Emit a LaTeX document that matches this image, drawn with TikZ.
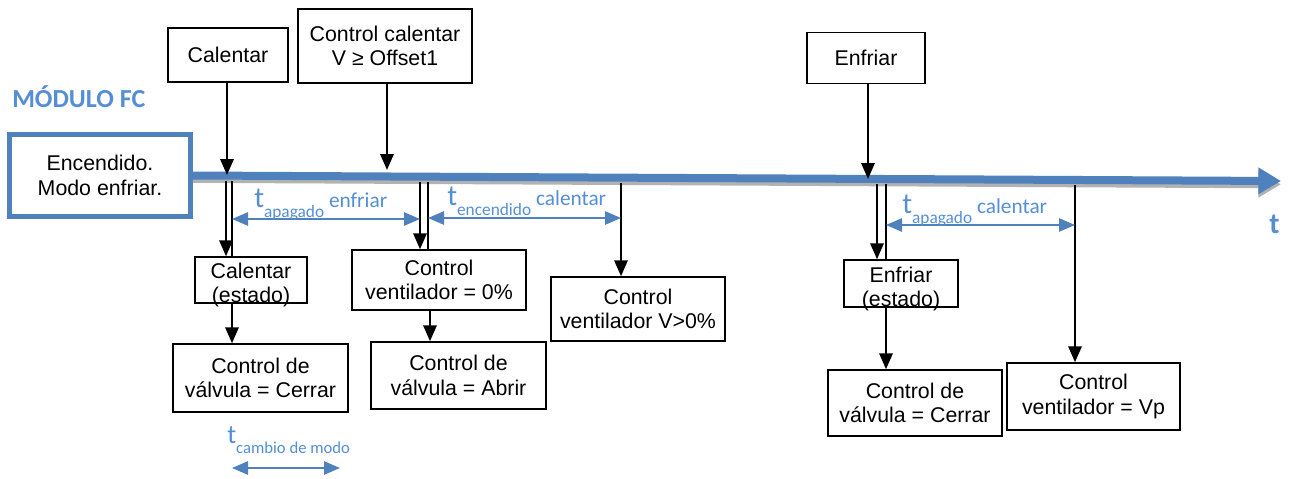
\documentclass[tikz,border=0pt]{standalone}
\usepackage{fontspec}
\newfontfamily\arialf{Liberation Sans}
\newfontfamily\calf{Carlito}
\usetikzlibrary{arrows.meta}
\definecolor{lineblue}{RGB}{79,129,189}
\definecolor{textblue}{RGB}{85,142,213}
\newcommand{\tlab}[2]{{\fontsize{22}{22}\selectfont t}\raisebox{-7.5pt}{\fontsize{13}{13}\selectfont #1}\ #2}

\tikzset{
  boxtext/.style={inner sep=0pt, align=center, font=\arialf\fontsize{16}{18.5}\selectfont},
  box/.style={boxtext, draw, line width=1.1pt, fill=white},
  arr/.style={line width=1.7pt, -{Triangle[length=12pt,width=10pt]}},
  bar/.style={line width=1.7pt},
  dim/.style={draw=lineblue, line width=1.2pt, {Triangle[length=12pt,width=10pt]}-{Triangle[length=12pt,width=10pt]}},
  lab/.style={anchor=base west, inner sep=0pt, text=textblue, font=\calf\fontsize{16}{16}\selectfont},
  axis/.style={line width=6pt, -{Triangle[length=17pt,width=19pt]}},
}

\begin{document}
\begin{tikzpicture}[x=0.75pt,y=-0.75pt]
\useasboundingbox (0,0) rectangle (1291,478);

% title
\node[lab, font=\calf\bfseries\fontsize{19.5}{19.5}\selectfont] (title) at (12,107) {MÓDULO FC};

% time axis
\node[box, draw=lineblue, line width=3.75pt, minimum width=135.75pt, minimum height=61.5pt] (enc) at (100,175.5) {Encendido.\\Modo enfriar.};
\coordinate (tend) at (1281,181);
\draw[axis, black!30] ([yshift=-2.5pt]enc.east) -- ([yshift=-2.5pt]tend);
\draw[axis, lineblue] (enc.east) -- (tend);
\node[lab, font=\calf\bfseries\fontsize{22}{22}\selectfont] (taxis) at (1269,233) {t};

% events above the axis
\node[box, minimum width=90pt, minimum height=40.5pt] (calT) at (228,55) {Calentar};
\node[box, minimum width=130.5pt, minimum height=55.5pt] (ccal) at (385,46) {Control calentar\\V ≥ Offset1};
\node[box, minimum width=88.5pt, minimum height=38.5pt] (enfT) at (866,58) {Enfriar};

\coordinate (pa) at (227,175);
\coordinate (pb) at (387,170);
\coordinate (pc) at (868,179);
\draw[arr] (pa |- calT.south) -- (pa);
\draw[arr] (pb |- ccal.south) -- (pb);
\draw[arr] (pc |- enfT.south) -- (pc);

% actions below the axis
\node[box, minimum width=84pt, minimum height=34.5pt] (calE) at (251,280) {};
\node[boxtext] (calEtxt) at (251,285) {Calentar\\(estado)};
\node[box, minimum width=131.25pt, minimum height=51pt] (cvalC) at (260.5,378) {Control de\\válvula = Cerrar};
\node[box, minimum width=130.5pt, minimum height=45pt] (cv0) at (439,280) {Control\\ventilador = 0\%};
\node[box, minimum width=131.25pt, minimum height=50.25pt] (cvalA) at (458.5,375.5) {Control de\\válvula = Abrir};
\node[box, minimum width=130.5pt, minimum height=48pt] (cvV) at (638,309) {Control\\ventilador V>0\%};
\node[box, minimum width=85.5pt, minimum height=35.25pt] (enfE) at (901,283.5) {};
\node[boxtext] (enfEtxt) at (901,289) {Enfriar\\(estado)};
\node[box, minimum width=130.5pt, minimum height=49.5pt] (cvalC2) at (915,403) {Control de\\válvula = Cerrar};
\node[box, minimum width=129.75pt, minimum height=50.25pt] (cvVp) at (1093.5,396.5) {Control\\ventilador = Vp};

\coordinate (qa) at (226,181);
\coordinate (qb) at (232,181);
\coordinate (qc) at (420,182);
\coordinate (qd) at (428,182);
\coordinate (qe) at (621,183);
\coordinate (qf) at (877,184);
\coordinate (qg) at (886,184);
\coordinate (qh) at (1075,185);

\draw[arr] (qa) -- (qa |- calE.north);
\draw[bar] (qb) -- (qb |- calE.north);
\draw[arr] (qb |- calE.south) -- (qb |- cvalC.north);
\draw[arr] (qc) -- (qc |- cv0.north);
\draw[bar] (qd) -- (qd |- cv0.north);
\draw[arr] (430,0 |- cv0.south) -- (430,0 |- cvalA.north);
\draw[arr] (qe) -- (qe |- cvV.north);
\draw[arr] (qf) -- (qf |- enfE.north);
\draw[bar] (qg) -- (qg |- enfE.north);
\draw[arr] (qg |- enfE.south) -- (qg |- cvalC2.north);
\draw[arr] (qh) -- (qh |- cvVp.north);

% time intervals
\draw[dim] (qb |- 0,219) -- (qc |- 0,219);
\draw[dim] (qd |- 0,218) -- (qe |- 0,218);
\draw[dim] (qg |- 0,225) -- (qh |- 0,225);
\coordinate (m1) at (232,468);
\coordinate (m2) at (340,468);
\draw[dim] (m1) -- (m2);

\node[lab] (l1) at (254,207) {\tlab{apagado}{enfriar}};
\node[lab] (l2) at (447,205) {\tlab{encendido}{calentar}};
\node[lab] (l3) at (902,213) {\tlab{apagado}{calentar}};
\node[lab] (l4) at (227,443) {{\fontsize{20}{20}\selectfont t}\raisebox{-7.5pt}{\fontsize{12.5}{12.5}\selectfont cambio de modo}};

\end{tikzpicture}
\end{document}
